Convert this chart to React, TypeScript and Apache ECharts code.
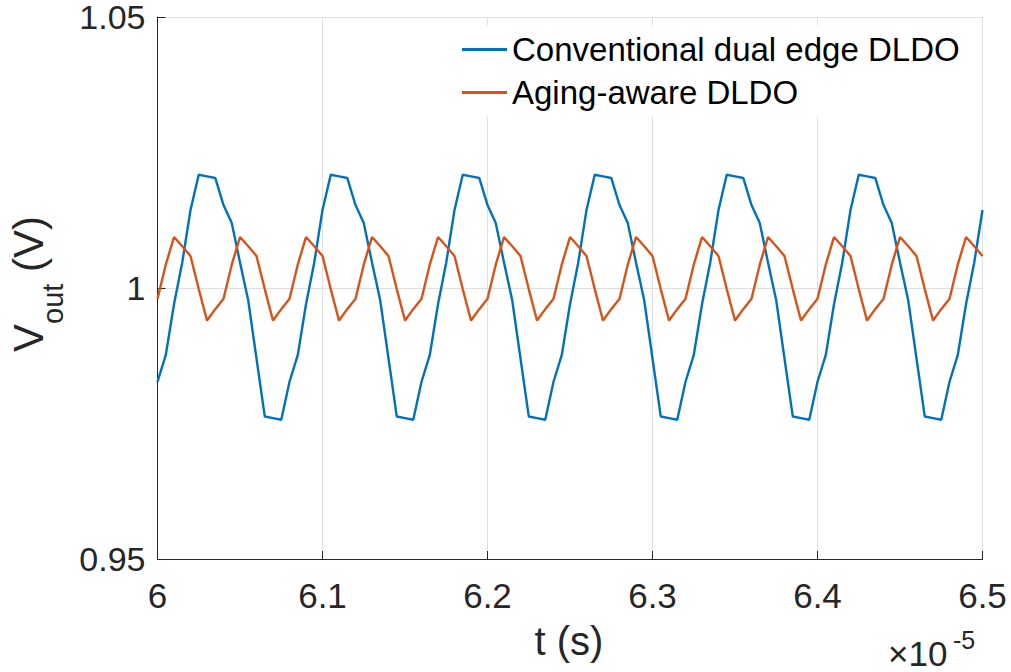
import React, { useEffect, useRef } from "react";
import * as echarts from "echarts";

// time in units of 1e-5 s
const T = [
  6, 6.005, 6.01, 6.015, 6.02, 6.025, 6.03, 6.035, 6.04, 6.045,
  6.05, 6.055, 6.06, 6.065, 6.07, 6.075, 6.08, 6.085, 6.09, 6.095,
  6.1, 6.105, 6.11, 6.115, 6.12, 6.125, 6.13, 6.135, 6.14, 6.145,
  6.15, 6.155, 6.16, 6.165, 6.17, 6.175, 6.18, 6.185, 6.19, 6.195,
  6.2, 6.205, 6.21, 6.215, 6.22, 6.225, 6.23, 6.235, 6.24, 6.245,
  6.25, 6.255, 6.26, 6.265, 6.27, 6.275, 6.28, 6.285, 6.29, 6.295,
  6.3, 6.305, 6.31, 6.315, 6.32, 6.325, 6.33, 6.335, 6.34, 6.345,
  6.35, 6.355, 6.36, 6.365, 6.37, 6.375, 6.38, 6.385, 6.39, 6.395,
  6.4, 6.405, 6.41, 6.415, 6.42, 6.425, 6.43, 6.435, 6.44, 6.445,
  6.45, 6.455, 6.46, 6.465, 6.47, 6.475, 6.48, 6.485, 6.49, 6.495,
  6.5,
];

const conventional = [
  0.9827, 0.9876, 0.997, 1.0047, 1.0144, 1.0209, 1.0206, 1.0203, 1.0153, 1.012, 1.0047, 0.9977, 0.987, 0.9763, 0.976, 0.9757,
  0.9827, 0.9876, 0.997, 1.0047, 1.0144, 1.0209, 1.0206, 1.0203, 1.0153, 1.012, 1.0047, 0.9977, 0.987, 0.9763, 0.976, 0.9757,
  0.9827, 0.9876, 0.997, 1.0047, 1.0144, 1.0209, 1.0206, 1.0203, 1.0153, 1.012, 1.0047, 0.9977, 0.987, 0.9763, 0.976, 0.9757,
  0.9827, 0.9876, 0.997, 1.0047, 1.0144, 1.0209, 1.0206, 1.0203, 1.0153, 1.012, 1.0047, 0.9977, 0.987, 0.9763, 0.976, 0.9757,
  0.9827, 0.9876, 0.997, 1.0047, 1.0144, 1.0209, 1.0206, 1.0203, 1.0153, 1.012, 1.0047, 0.9977, 0.987, 0.9763, 0.976, 0.9757,
  0.9827, 0.9876, 0.997, 1.0047, 1.0144, 1.0209, 1.0206, 1.0203, 1.0153, 1.012, 1.0047, 0.9977, 0.987, 0.9763, 0.976, 0.9757,
  0.9827, 0.9876, 0.997, 1.0047, 1.0144,
];

const agingAware = [
  0.998, 1.0043, 1.0094, 1.0077, 1.0059, 0.9998, 0.994, 0.9961,
  0.998, 1.0043, 1.0094, 1.0077, 1.0059, 0.9998, 0.994, 0.9961,
  0.998, 1.0043, 1.0094, 1.0077, 1.0059, 0.9998, 0.994, 0.9961,
  0.998, 1.0043, 1.0094, 1.0077, 1.0059, 0.9998, 0.994, 0.9961,
  0.998, 1.0043, 1.0094, 1.0077, 1.0059, 0.9998, 0.994, 0.9961,
  0.998, 1.0043, 1.0094, 1.0077, 1.0059, 0.9998, 0.994, 0.9961,
  0.998, 1.0043, 1.0094, 1.0077, 1.0059, 0.9998, 0.994, 0.9961,
  0.998, 1.0043, 1.0094, 1.0077, 1.0059, 0.9998, 0.994, 0.9961,
  0.998, 1.0043, 1.0094, 1.0077, 1.0059, 0.9998, 0.994, 0.9961,
  0.998, 1.0043, 1.0094, 1.0077, 1.0059, 0.9998, 0.994, 0.9961,
  0.998, 1.0043, 1.0094, 1.0077, 1.0059, 0.9998, 0.994, 0.9961,
  0.998, 1.0043, 1.0094, 1.0077, 1.0059, 0.9998, 0.994, 0.9961,
  0.998, 1.0043, 1.0094, 1.0077, 1.0059,
];

const seriesNames = ["Conventional dual edge DLDO", "Aging-aware DLDO"];
const xRange = [6, 6.5, 0.1];
const yRange = [0.95, 1.05, 0.05];

const FONT = "'Liberation Sans', Arial, Helvetica, sans-serif";
const AX = "#262626";

const fmt = (v: number) => String(Number(v.toFixed(2)));

export default function App() {
  const ref = useRef<HTMLDivElement>(null);
  useEffect(() => {
    if (!ref.current) return;
    const chart = echarts.init(ref.current, null, { renderer: "svg" });
    const toPairs = (ys: number[]) => T.map((t, i) => [t, ys[i]]);
    chart.setOption({
      animation: false,
      backgroundColor: "#fff",
      textStyle: { fontFamily: FONT },
      grid: { left: 157.5, right: 28.5, top: 12, bottom: 113 },
      xAxis: {
        type: "value",
        min: xRange[0],
        max: xRange[1],
        interval: xRange[2],
        axisLine: { show: true, onZero: false, lineStyle: { color: AX, width: 1 } },
        axisTick: { show: true, inside: true, length: 8, lineStyle: { color: AX } },
        splitLine: { show: true, lineStyle: { color: "#dfdfdf", width: 1 } },
        axisLabel: { fontSize: 35, color: AX, margin: 19, fontFamily: FONT, formatter: fmt, showMinLabel: true, showMaxLabel: true },
      },
      yAxis: {
        type: "value",
        min: yRange[0],
        max: yRange[1],
        interval: yRange[2],
        axisLine: { show: true, onZero: false, lineStyle: { color: AX, width: 1 } },
        axisTick: { show: true, inside: true, length: 8, lineStyle: { color: AX } },
        splitLine: { show: true, lineStyle: { color: "#dfdfdf", width: 1 } },
        axisLabel: { fontSize: 34, color: AX, margin: 12, padding: [4, 0, 0, 0], fontFamily: FONT, formatter: fmt, showMinLabel: true, showMaxLabel: true },
      },
      legend: {
        orient: "vertical",
        left: 452,
        top: 25,
        padding: [3, 12, 3, 10],
        backgroundColor: "#fff",
        itemWidth: 45,
        itemHeight: 3,
        itemGap: 0,
        icon: "rect",
        textStyle: { fontSize: 33, lineHeight: 43, color: "#000", fontFamily: FONT },
        data: seriesNames,
      },
      series: [
        {
          name: seriesNames[0],
          type: "line",
          data: toPairs(conventional),
          showSymbol: false,
          symbol: "none",
          lineStyle: { color: "#0072BD", width: 2.4 },
          itemStyle: { color: "#0072BD" },
        },
        {
          name: seriesNames[1],
          type: "line",
          data: toPairs(agingAware),
          showSymbol: false,
          symbol: "none",
          lineStyle: { color: "#D95319", width: 2.4 },
          itemStyle: { color: "#D95319" },
        },
      ],
      graphic: [
        {
          type: "group",
          x: 43,
          y: 352,
          rotation: Math.PI / 2,
          children: [
            { type: "text", x: 0, y: -14.7, style: { text: "V", fontSize: 42, fontFamily: FONT, fill: AX, align: "left", verticalAlign: "middle" } },
            { type: "text", x: 28, y: 9.5, style: { text: "out", fontSize: 29, fontFamily: FONT, fill: AX, align: "left", verticalAlign: "middle" } },
            { type: "text", x: 68.3, y: -14.7, style: { text: " (V)", fontSize: 42, fontFamily: FONT, fill: AX, align: "left", verticalAlign: "middle" } },
          ],
        },
        { type: "text", x: 569, y: 641, style: { text: "t (s)", fontSize: 40, fontFamily: FONT, fill: AX, align: "center", verticalAlign: "middle" } },
        { type: "text", x: 888, y: 653, style: { text: "\u00d710", fontSize: 35, fontFamily: FONT, fill: AX, align: "left", verticalAlign: "middle" } },
        { type: "text", x: 953, y: 640, style: { text: "-5", fontSize: 25, fontFamily: FONT, fill: AX, align: "left", verticalAlign: "middle" } },
      ],
    });
    return () => chart.dispose();
  }, []);
  return <div ref={ref} style={{ position: "fixed", left: 0, top: 0, width: 1011, height: 672 }} />;
}
